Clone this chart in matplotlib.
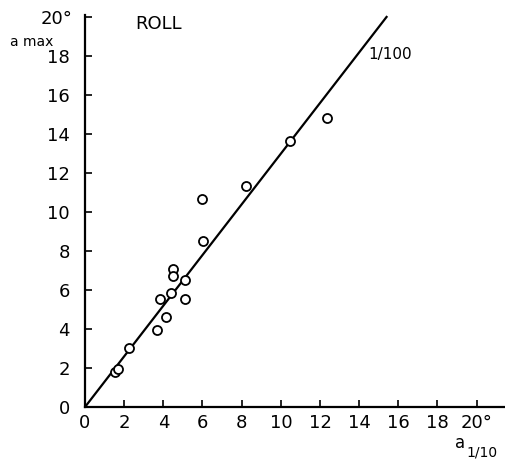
import matplotlib
matplotlib.use('Agg')
import matplotlib.pyplot as plt

# observed points (a_1/10, a_max), degrees
a_110 = [1.51, 1.68, 2.23, 3.67, 3.84, 4.15, 4.37, 4.49, 4.49, 5.10, 5.12, 5.95, 6.04, 8.2, 10.47, 12.35]
a_max = [1.79, 1.95, 3.03, 3.93, 5.52, 4.63, 5.83, 7.06, 6.72, 6.51, 5.55, 10.68, 8.53, 11.33, 13.64, 14.8]

# 1/100 line
line_x = [0, 15.4]
line_y = [0, 20.0]

ticks = [0, 2, 4, 6, 8, 10, 12, 14, 16, 18, 20]
xtick_labels = ['0', '2', '4', '6', '8', '10', '12', '14', '16', '18', '20°']
ytick_labels = ['0', '2', '4', '6', '8', '10', '12', '14', '16', '18', '']

W, H = 506, 462
fig = plt.figure(figsize=(W / 100, H / 100), dpi=100)
ax = fig.add_axes([85 / W, 55 / H, 421 / W, 392 / H])

ax.plot(line_x, line_y, '-', color='black', linewidth=1.6, zorder=2)
ax.plot(a_110, a_max, 'o', markerfacecolor='white', markeredgecolor='black',
        markersize=6.5, markeredgewidth=1.3, linestyle='', zorder=3)

ax.set_xlim(0, 21.5)
ax.set_ylim(0, 20.1)
ax.set_xticks(ticks)
ax.set_xticklabels(xtick_labels, fontsize=13)
ax.set_yticks(ticks)
ax.set_yticklabels(ytick_labels, fontsize=13)
ax.tick_params(axis='both', direction='in', length=5, width=1.2)
ax.tick_params(axis='x', pad=5)
ax.tick_params(axis='y', pad=11)
for sp in ('top', 'right'):
    ax.spines[sp].set_visible(False)
for sp in ('left', 'bottom'):
    ax.spines[sp].set_linewidth(1.6)

fig.text(57 / W, 1 - 19 / H, '20°', fontsize=13, ha='center', va='center')
fig.text(32 / W, 1 - 42 / H, 'a max', fontsize=10, ha='center', va='center')
fig.text(159 / W, 1 - 24 / H, 'ROLL', fontsize=13, ha='center', va='center')
fig.text(390 / W, 1 - 54 / H, '1/100', fontsize=11, ha='center', va='center')
fig.text(460 / W, 1 - 443 / H, 'a', fontsize=12, ha='center', va='center')
fig.text(482 / W, 1 - 452 / H, '1/10', fontsize=10, ha='center', va='center')

fig.savefig('out.png', dpi=100)
